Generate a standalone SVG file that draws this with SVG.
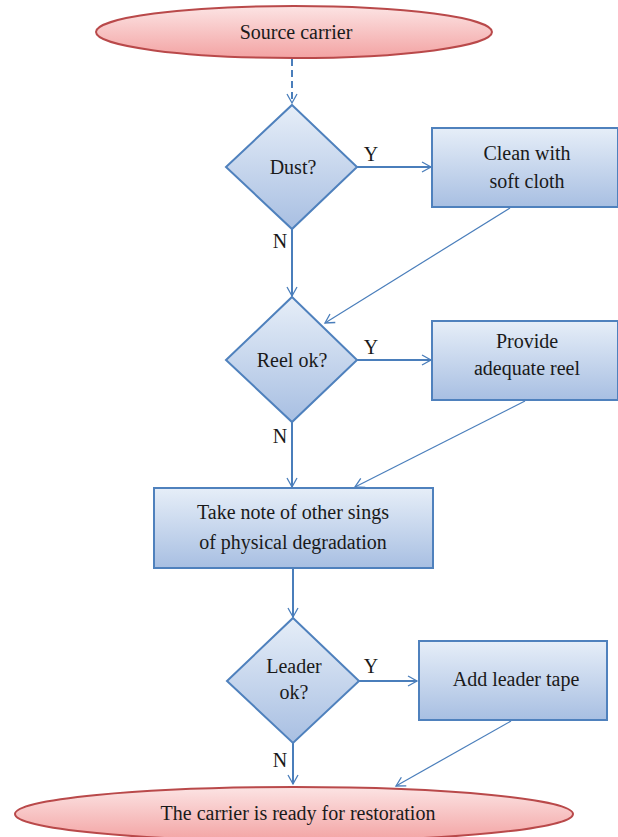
<svg xmlns="http://www.w3.org/2000/svg" width="618" height="837" viewBox="0 0 618 837">
<style>
text{font-family:"Liberation Serif","Times New Roman",serif;font-size:20px;fill:#1a1a1a;text-anchor:middle}
.box{fill:url(#gb);stroke:#4f81bd;stroke-width:2}
.term{fill:url(#gr);stroke:#b9494a;stroke-width:2}
.c{fill:none;stroke:#4a7ebb;stroke-width:2}
.d{fill:none;stroke:#4a7ebb;stroke-width:1.2}
</style>
<defs>
<linearGradient id="gb" x1="0" y1="0" x2="0" y2="1"><stop offset="0" stop-color="#e6eef8"/><stop offset="1" stop-color="#a8bfe2"/></linearGradient>
<linearGradient id="gr" x1="0" y1="0" x2="0" y2="1"><stop offset="0" stop-color="#fce4e4"/><stop offset="1" stop-color="#f3a3a3"/></linearGradient>
<marker id="a" markerWidth="12" markerHeight="12" refX="10" refY="6" orient="auto" markerUnits="userSpaceOnUse"><path d="M1,1 L10,6 L1,11" fill="none" stroke="#4a7ebb" stroke-width="1.3"/></marker>
</defs>
<g id="connectors">
<line class="c" x1="292" y1="59" x2="292" y2="103" stroke-dasharray="7,4" marker-end="url(#a)"/>
<line class="c" x1="357" y1="167" x2="431" y2="167" marker-end="url(#a)"/>
<line class="c" x1="292" y1="229" x2="292" y2="296" marker-end="url(#a)"/>
<line class="d" x1="510" y1="208" x2="325" y2="323" marker-end="url(#a)"/>
<line class="c" x1="357" y1="360" x2="431" y2="360" marker-end="url(#a)"/>
<line class="c" x1="292" y1="422" x2="292" y2="487" marker-end="url(#a)"/>
<line class="d" x1="525" y1="401" x2="355" y2="487" marker-end="url(#a)"/>
<line class="c" x1="293" y1="568" x2="293" y2="617" marker-end="url(#a)"/>
<line class="c" x1="359" y1="681" x2="417" y2="681" marker-end="url(#a)"/>
<line class="c" x1="293" y1="743" x2="293" y2="784" marker-end="url(#a)"/>
<line class="d" x1="511" y1="721" x2="396" y2="786" marker-end="url(#a)"/>
<text x="371" y="161">Y</text>
<text x="280" y="248">N</text>
<text x="371" y="354">Y</text>
<text x="280" y="443">N</text>
<text x="371" y="673">Y</text>
<text x="280" y="767">N</text>
</g>
<g id="source"><ellipse class="term" cx="294" cy="32" rx="198" ry="26"/><text x="296" y="39">Source carrier</text></g>
<g id="dust"><polygon class="box" points="292,105 357,167 292,229 226,167"/><text x="293" y="174">Dust?</text></g>
<g id="clean"><rect class="box" x="432" y="128" width="186" height="79"/><text x="527" y="160">Clean with</text><text x="527" y="188">soft cloth</text></g>
<g id="reel"><polygon class="box" points="292,297 357,360 292,422 226,360"/><text x="292" y="367">Reel ok?</text></g>
<g id="provide"><rect class="box" x="432" y="321" width="186" height="79"/><text x="527" y="348">Provide</text><text x="527" y="375">adequate reel</text></g>
<g id="note"><rect class="box" x="154" y="488" width="279" height="80"/><text x="293" y="519">Take note of other sings</text><text x="293" y="549">of physical degradation</text></g>
<g id="leader"><polygon class="box" points="293,618 359,681 293,743 227,681"/><text x="294" y="673">Leader</text><text x="294" y="699">ok?</text></g>
<g id="addleader"><rect class="box" x="419" y="641" width="188" height="79"/><text x="516" y="686">Add leader tape</text></g>
<g id="ready"><ellipse class="term" cx="294" cy="814" rx="279" ry="27"/><text x="298" y="820">The carrier is ready for restoration</text></g>
</svg>
